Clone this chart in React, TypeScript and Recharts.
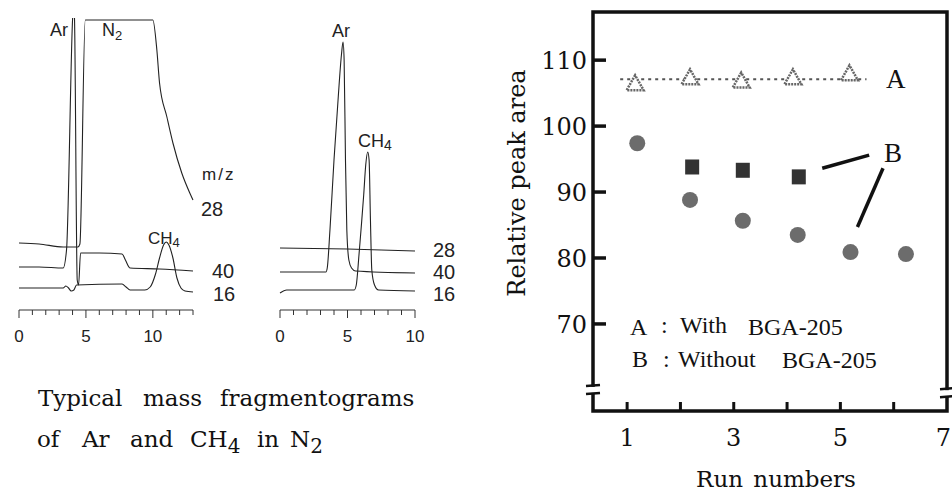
import React from 'react';
import {
  LineChart,
  Line,
  XAxis,
  YAxis,
  ComposedChart,
  Scatter,
  ReferenceArea,
  ReferenceLine,
  ReferenceDot,
} from 'recharts';

// ---------- Left: mass fragmentograms (time [min], signal height) ----------
const frag1Mz28: [number, number][] = [
  [0, 67], [1.5, 66], [3.3, 63], [4.4, 63], [4.55, 66], [4.95, 290], [10.0, 290],
  [10.3, 260], [10.5, 227], [11.05, 193], [11.5, 167], [12.16, 137], [12.76, 117], [13, 110],
];
const frag1Mz40: [number, number][] = [
  [0, 43], [1.5, 43], [3.3, 42], [3.55, 60], [4.0, 290], [4.08, 310], [4.15, 290],
  [4.35, 30], [4.45, 25], [4.6, 57], [6.0, 57], [7.7, 56], [7.95, 50], [8.3, 42], [10.5, 41], [13, 39],
];
const frag1Mz16: [number, number][] = [
  [0, 22], [3.3, 22], [3.5, 24], [3.7, 22], [3.9, 19], [4.1, 20], [4.3, 25], [7.7, 26],
  [8.0, 23], [8.3, 20], [9.4, 20], [9.8, 23], [10.2, 36], [10.5, 52], [10.8, 65], [11.0, 68],
  [11.2, 65], [11.5, 52], [11.8, 32], [12.1, 22], [12.4, 19], [13, 18],
];
const frag2Mz28: [number, number][] = [[0, 62], [5, 61], [10, 59]];
const frag2Mz40: [number, number][] = [
  [0, 38], [3.4, 38], [3.5, 42], [3.7, 80], [4.0, 150], [4.3, 210], [4.55, 255], [4.67, 268],
  [4.75, 250], [4.85, 150], [4.95, 80], [5.1, 50], [5.3, 42], [5.6, 39], [10, 37],
];
const frag2Mz16: [number, number][] = [
  [0, 17], [0.5, 20], [5.5, 20], [5.65, 25], [5.85, 55], [6.0, 80], [6.2, 115], [6.35, 145],
  [6.5, 158], [6.6, 150], [6.7, 90], [6.8, 40], [7.0, 25], [7.3, 20], [10, 19],
];
const frag1Ticks = [0, 1, 2, 3, 4, 5, 6, 7, 8, 9, 10, 11, 12, 13];
const frag2Ticks = [0, 1, 2, 3, 4, 5, 6, 7, 8, 9, 10];

// ---------- Right: relative peak area vs run numbers ----------
const runsA = [1.15, 2.18, 3.14, 4.11, 5.17];
const areaA = [106.5, 107.4, 106.9, 107.4, 108.0];
const runsBCircle = [1.19, 2.18, 3.17, 4.2, 5.19, 6.23];
const areaBCircle = [97.4, 88.8, 85.65, 83.5, 80.9, 80.6];
const runsBSquare = [2.22, 3.17, 4.22];
const areaBSquare = [93.8, 93.3, 92.3];
const trendARuns = [0.87, 5.49];
const trendAArea = [107.1, 107.1];
const yTicks = [70, 80, 90, 100, 110];
const xTicks = [1, 2, 3, 4, 5, 6, 7];
const xLabelTicks = [1, 3, 5, 7];

const toPts = (a: [number, number][]) => a.map(([t, h]) => ({ t, h }));
const zipXY = (xs: number[], ys: number[]) => xs.map((x, i) => ({ x, y: ys[i] }));

const X_MIN = 0.36;
const X_MAX = 7;
const Y_MIN = 56.8;
const Y_MAX = 117.3;

const sans = '"Liberation Sans", Arial, sans-serif';
const serif = '"DejaVu Serif", serif';
const tserif = '"Liberation Serif", "Times New Roman", serif';

function RulerTick(props: any) {
  const { x, y, payload } = props;
  const v = payload.value;
  const major = v % 5 === 0;
  return (
    <g>
      <line x1={x} x2={x} y1={y} y2={y + (major ? 8 : 5)} stroke="#333" strokeWidth={1} />
      {major && (
        <text x={x} y={y + 32} textAnchor="middle" fontFamily={sans} fontSize={17} fill="#222">
          {v}
        </text>
      )}
    </g>
  );
}

function YTick(props: any) {
  const { x, y, payload } = props;
  return (
    <g>
      <line x1={x} x2={x + 13} y1={y} y2={y} stroke="#111" strokeWidth={3.5} />
      <text x={x - 6} y={y + 9} textAnchor="end" fontFamily={serif} fontSize={24} fill="#111">
        {payload.value}
      </text>
    </g>
  );
}

function XTick(props: any) {
  const { x, y, payload } = props;
  const v = payload.value;
  const last = v === 7;
  return (
    <g>
      {!last && <line x1={x} x2={x} y1={y} y2={y - 9} stroke="#111" strokeWidth={3} />}
      {xLabelTicks.includes(v) && (
        <text
          x={last ? x + 4 : x}
          y={y + 35}
          textAnchor={last ? 'end' : 'middle'}
          fontFamily={serif}
          fontSize={24}
          fill="#111"
        >
          {v}
        </text>
      )}
    </g>
  );
}

const Triangle = (p: any) => (
  <polygon
    points={`${p.cx},${p.cy - 8} ${p.cx - 8.5},${p.cy + 7} ${p.cx + 8.5},${p.cy + 7}`}
    fill="#fff"
    stroke="#666"
    strokeWidth={2.5}
    strokeDasharray="2 1"
  />
);
const Dot = (p: any) => <circle cx={p.cx} cy={p.cy} r={8} fill="#6c6c6c" />;
const Square = (p: any) => <rect x={p.cx - 7} y={p.cy - 7.5} width={14} height={15} fill="#333" />;

const BreakMark = (p: any) => {
  const { cx, cy } = p;
  return (
    <g>
      <rect x={cx - 3} y={cy - 3} width={6} height={6} fill="#fff" />
      <path
        d={`M${cx - 7},${cy - 4} L${cx + 7},${cy - 5} M${cx - 7},${cy + 4} L${cx + 7},${cy + 3}`}
        stroke="#111"
        strokeWidth={2.5}
        fill="none"
      />
    </g>
  );
};

function Fragmentogram({ traces, ticks, maxT, width }: any) {
  return (
    <LineChart width={width + 30} height={350} margin={{ top: 18, right: 10, left: 20, bottom: 0 }}>
      <XAxis
        type="number"
        dataKey="t"
        domain={[0, maxT]}
        ticks={ticks}
        interval={0}
        height={40}
        tickSize={0}
        tickMargin={0}
        tickLine={false}
        axisLine={{ stroke: '#333', strokeWidth: 1 }}
        tick={<RulerTick />}
      />
      <YAxis hide type="number" domain={[0, 292]} allowDataOverflow />
      {traces.map((tr: [number, number][], i: number) => (
        <Line
          key={i}
          data={toPts(tr)}
          dataKey="h"
          type="monotone"
          dot={false}
          stroke="#222"
          strokeWidth={1.1}
          isAnimationActive={false}
        />
      ))}
    </LineChart>
  );
}

export default function App() {
  return (
    <div style={{ position: 'absolute', left: 0, top: 0, width: 952, height: 495, background: '#fff', overflow: 'hidden' }}>
      <div style={{ position: 'absolute', left: -1, top: 0 }}>
        <Fragmentogram traces={[frag1Mz28, frag1Mz40, frag1Mz16]} ticks={frag1Ticks} maxT={13} width={174} />
      </div>
      <div style={{ position: 'absolute', left: 260, top: 0 }}>
        <Fragmentogram traces={[frag2Mz28, frag2Mz40, frag2Mz16]} ticks={frag2Ticks} maxT={10} width={135} />
      </div>

      <div style={{ position: 'absolute', left: 480, top: 0 }}>
        <ComposedChart width={472} height={495} margin={{ top: 12, right: 5, left: 0, bottom: 0 }}>
          <XAxis
            type="number"
            dataKey="x"
            domain={[X_MIN, X_MAX]}
            ticks={xTicks}
            interval={0}
            height={84}
            tickSize={0}
            tickMargin={0}
            tickLine={false}
            axisLine={false}
            tick={<XTick />}
            allowDataOverflow
          />
          <YAxis
            type="number"
            domain={[Y_MIN, Y_MAX]}
            ticks={yTicks}
            interval={0}
            width={113}
            tickSize={0}
            tickMargin={0}
            tickLine={false}
            axisLine={false}
            tick={<YTick />}
            allowDataOverflow
          />
          <Line
            data={zipXY(trendARuns, trendAArea)}
            dataKey="y"
            type="linear"
            stroke="#555"
            strokeWidth={2}
            strokeDasharray="3 4"
            dot={false}
            isAnimationActive={false}
          />
          <Scatter data={zipXY(runsA, areaA)} dataKey="y" shape={Triangle} isAnimationActive={false} />
          <Scatter data={zipXY(runsBCircle, areaBCircle)} dataKey="y" shape={Dot} isAnimationActive={false} />
          <Scatter data={zipXY(runsBSquare, areaBSquare)} dataKey="y" shape={Square} isAnimationActive={false} />
          <ReferenceLine
            segment={[{ x: 4.66, y: 93.6 }, { x: 5.54, y: 95.6 }]}
            stroke="#111"
            strokeWidth={3.5}
            ifOverflow="visible"
          />
          <ReferenceLine
            segment={[{ x: 5.8, y: 93.6 }, { x: 5.32, y: 84.7 }]}
            stroke="#111"
            strokeWidth={3.5}
            ifOverflow="visible"
          />
          <ReferenceArea
            x1={X_MIN}
            x2={X_MAX}
            y1={Y_MIN}
            y2={Y_MAX}
            fill="none"
            fillOpacity={0}
            stroke="#111"
            strokeWidth={3.5}
            ifOverflow="visible"
          />
          <ReferenceDot x={X_MIN} y={60} r={4} shape={BreakMark} ifOverflow="visible" />
          <ReferenceDot x={X_MAX} y={59.5} r={4} shape={BreakMark} ifOverflow="visible" />
        </ComposedChart>
      </div>

      <svg width={952} height={495} style={{ position: 'absolute', left: 0, top: 0, pointerEvents: 'none' }}>
        {/* panel 1 labels */}
        <g fontFamily={sans} fill="#222">
          <text x={50} y={36} fontSize={18}>Ar</text>
          <text x={102} y={36} fontSize={18}>
            N<tspan fontSize={13} dy={4}>2</tspan>
          </text>
          <text x={202} y={180} fontSize={17} letterSpacing={2}>m/z</text>
          <text x={201} y={216} fontSize={20}>28</text>
          <text x={148} y={244} fontSize={17}>
            CH<tspan fontSize={13} dy={3}>4</tspan>
          </text>
          <text x={212} y={278} fontSize={20}>40</text>
          <text x={213} y={301} fontSize={20}>16</text>
          {/* panel 2 labels */}
          <text x={341} y={37} fontSize={18} textAnchor="middle">Ar</text>
          <text x={358} y={147} fontSize={18}>
            CH<tspan fontSize={14} dy={3}>4</tspan>
          </text>
          <text x={433} y={257} fontSize={20}>28</text>
          <text x={433} y={279} fontSize={20}>40</text>
          <text x={433} y={301} fontSize={20}>16</text>
        </g>
        {/* caption */}
        <g fontFamily={serif} fontSize={23} fill="#111">
          <text y={406}>
            <tspan x={38}>Typical</tspan>
            <tspan x={143}>mass</tspan>
            <tspan x={220}>fragmentograms</tspan>
          </text>
          <text y={447}>
            <tspan x={37}>of</tspan>
            <tspan x={82}>Ar</tspan>
            <tspan x={130}>and</tspan>
            <tspan x={190}>CH</tspan>
            <tspan fontSize={20} dy={6}>4</tspan>
            <tspan x={257} dy={-6}>in</tspan>
            <tspan x={290}>N</tspan>
            <tspan fontSize={20} dy={6}>2</tspan>
          </text>
        </g>
        {/* right chart texts */}
        <text
          transform="translate(525,183) rotate(-90)"
          textAnchor="middle"
          fontFamily={serif}
          fontSize={24}
          fill="#111"
        >
          Relative peak area
        </text>
        <text x={776} y={487} textAnchor="middle" fontFamily={serif} fontSize={23} fill="#111" wordSpacing={3}>
          Run numbers
        </text>
        <g fontFamily={tserif} fontSize={24} fill="#111">
          <text x={630} y={335}>A</text>
          <text x={661} y={333}>:</text>
          <text x={680} y={333}>With</text>
          <text x={748} y={335}>BGA-205</text>
          <text x={632} y={367}>B</text>
          <text x={663} y={367}>:</text>
          <text x={678} y={367}>Without</text>
          <text x={782} y={368}>BGA-205</text>
          <text x={886} y={88} fontSize={27}>A</text>
          <text x={884} y={162} fontSize={27}>B</text>
        </g>
      </svg>
    </div>
  );
}
